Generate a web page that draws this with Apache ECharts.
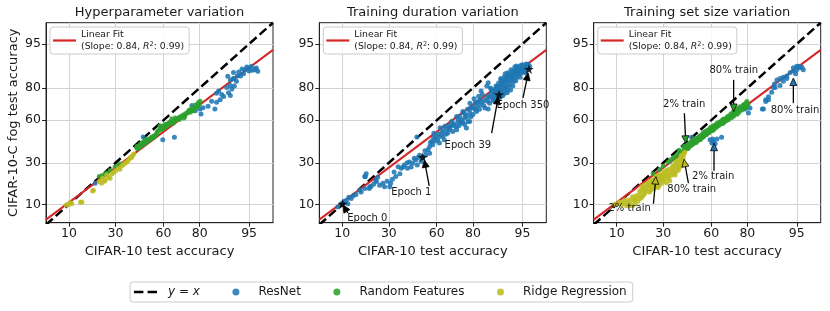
<!DOCTYPE html>
<html><head><meta charset="utf-8">
<script src="https://cdn.jsdelivr.net/npm/echarts@6/dist/echarts.min.js"></script>
<style>html,body{margin:0;padding:0;background:#fff}#c{width:830px;height:311px}</style>
</head><body><div id="c"></div>
<script>
// ---------------- data (accuracies in %) ----------------
const tickValues = [10, 30, 60, 80, 95];
const xRange = [4.9, 97.9];
const yRange = [5.3, 97.9];
const panelTitles = ['Hyperparameter variation', 'Training duration variation', 'Training set size variation'];
const xAxisTitle = 'CIFAR-10 test accuracy';
const yAxisTitle = 'CIFAR-10-C fog test accuracy';
const fitSlope = 0.84;
const fitIntercept = -0.17;
const fitLabel = 'Linear Fit';

const hpResNet = [[95.4,89.2],[95.9,88.0],[94.9,88.5],[94.3,88.0],[93.7,88.3],[96.1,88.6],[95.0,87.5],[93.4,85.6],[92.7,85.6],[91.8,87.0],[91.8,84.5],[92.5,83.3],[91.0,83.8],[94.0,86.5],[95.5,87.8],[96.3,87.4],[94.6,89.0],[93.0,87.2],[90.3,85.5],[91.9,84.5],[91.0,81.3],
 [91.4,79.5],[90.5,77.5],[91.0,76.0],[89.1,75.4],[88.0,73.5],[86.8,72.0],[86.2,67.7],[87.5,78.5],[90.0,80.2],[86.8,77.2],[92.0,81.0],[83.6,69.5],[81.5,68.5],[85.0,72.5],[88.5,76.5],
 [80.2,67.7],[80.6,64.3],[78.0,66.5],[76.3,70.0],[66.7,47.8],[59.6,46.0],[47.0,48.0],[19.6,18.5]];
const hpRandFeat = [[21.5,22],[23,22.5],[24.5,23.5],[25.2,23.8],[27,25.3],[29.7,27.5],[31.6,28.2],[32.5,29.3],[42.9,40],[42.9,41],[44,41.5],[45,42.5],[46,43.5],[47,44],[48,45.5],[49.3,44.5],[50.3,46.5],[52,47],[53.6,48],[53.6,47.3],[55,49],[55.8,50.2],[56.9,52.6],[57.8,56],[59,53.1],[60,54.5],[61,57.2],[62.2,56],[63.5,57.5],[65.1,58.4],[65.1,60.8],[66,57.9],[68,60.3],[69,61.5],[70,62.2],[71.8,63.7],[72.5,62.5],[73,64.5],[74.5,66],[75.5,65.5],[76.3,68.3],[77,66.5],[78,70.3],[79,69.5],[79.4,71.7],[80.2,72.6],
 [43.5,39.5],[44.5,40.5],[46.5,42],[47.5,43],[48.5,44],[49.8,45.8],[51,45.5],[52.5,48],[54.2,48.8],[56,51.5],[58,54],[59.5,55.5],[61,55],[62.8,57.5],[64,58.8],[66.5,59.5],[67.2,61.5],[69.5,60.5],[71,63],[72,61.5],[73.8,65],[75,67],[76.8,67],[78.5,68.8],[79.8,70.5]];
const hpRidge = [[9.3,9.8],[9.9,10],[10.8,10.2],[10.3,10.5],[14.2,10.8],[13.7,10.7],[18.5,15],[18.8,15.3],[21.5,19.4],[22.6,18.5],[23,21],[24,19.5],[24.5,20.1],[25.2,22.8],[26.1,21.7],[27,21],[28,23.5],[29,24.3],[30,25.2],[31.6,26.7],[32.5,26.1],[33.6,28.2],[34.5,28.8],[35.5,29.8],[36.5,30.5],[37.5,31.5],[38.5,33],[39.5,33.5],[40,34.5],[41,35.8]];

const durResNet = [[8.8,9.2],[9.7,10.2],[11.7,10.2],[11.2,11.3],[10.5,11],[12,12.5],[12.8,12],[13.5,13],[14.5,13.5],[15.9,15.3],[16.5,14.5],[18,16],[18.6,23.5],[18,22],[18.2,21.8],[20,16],[20.7,17],[20.2,16.8],[22,18],[23,20],[23.4,19.4],[24,21.5],[25,17.5],[26.7,18.5],[27.6,16.8],[29,19.5],[30.5,16.8],[31,18.5],[32,20.5],[33,24.5],[34,22],[35.4,27.6],[36.5,23.5],[37.3,26.6],[38.5,27.5],[39.3,28.6],[41,30],[41.2,26.6],[42.5,30.5],[43.5,27.5],[44.5,29.7],[45.5,33],[46.5,31.9],[47.2,47.9],[47.5,28.6],[48,33.5],[49,35],[50,30.9],[51,33.5],[52.5,38],[53,35.1],[54.5,39],[55.5,36.3],[55.5,41],[56,44],[57.5,42.3],[58,47.5],[58.2,50.6],[59,45],[60.6,46],[61.7,43.5],[62,48.5],[62.1,54.6],[63,51],[63.7,48.2],[64.6,46],[65,55.7],[66,53.5],[66.7,50.7],[67.7,53.1],[68.5,56],[69,59.1],[69.7,52],[70.5,57.5],[71.4,55.4],[71.8,62.6],[71.8,53.1],[72.5,60.5],[73.4,62.6],[74.2,57.9],[74.5,60],[75.1,66],[75.3,65],[76,61.5],[76.5,64],[76.9,54.5],[77.5,67.5],[77.7,59.1],[78.5,67.7],[78.5,59.1],[78.6,65],[78.6,71.3],[79.5,69],[80,68.3],[80.5,74],[81,71.5],[81.6,66],[81.6,69.2],[82,72],[82.5,75.5],[82.8,67.5],[83,70.3],[83.5,78.5],[83.7,72.1],[84,76.5],[84.5,70],[85,68.3],[85.7,74.5],[85.7,81],[86.2,67.7],[86.2,82.6],[86.7,71.3],[87.3,79.4],[87.8,73.4],[88.4,77],[88.9,78.6],
 [57,45],[59.5,48],[61,50],[64,52.5],[65.5,50],[67,56],[68,54.5],[70,56.5],[72.8,58.5],[73,56],[75,58.5],[76,57],[77,62.5],[79,62.5],[80,64],[81,67.5],[83,73.5],[84.8,73],[86,72.5],[86.8,75],
 [87.4,78],[88.1,74],[88.5,76.5],[88.6,79.5],[89.2,80.5],[89.5,77],[89.4,75.2],[89.9,77.7],[90,79],[90.3,75.6],[90.4,82],[90.8,76],[90.8,80],[91,84],[91.3,78.5],[91.6,81],[91.8,85.5],[92,79],[92.2,83],[92.4,86.5],[92.6,81.5],[92.9,84.5],[93.1,87.3],[93.3,83],[93.5,86],[93.8,88.4],[94,85],[94.2,87],[94.4,89],[94.6,86.5],[94.8,88],[95,89.7],[95.2,87.3],[95.4,88.6],[95.6,90],[95.8,89],[96,88.6],[95.9,89.9],[93.6,89],[92.8,88],[91.4,86.5],[90.2,84.5],[89.6,82.5],[88.8,81],[89.9,80.2],[90.7,81.7],[90.3,83.8],[91.2,85.3],[91.6,83.3],[92,86.9],[92.5,85],[93.2,85.6],[93.9,87],[94.1,88.7],[94.5,87.6],[95.1,88.2],[95.3,89.5],
 [86.5,76],[87,80],[87.6,75.5],[88,78],[88.3,72.8],[88.9,76],[89,79],[89.3,81],[89.7,74.5],[90,76.5],[90.1,81],[90.5,78],[90.6,83],[91,77],[91.1,82.2],[91.4,80],[91.7,84.2],[91.9,77.5],[92.1,80.8],[92.3,85],[92.7,79],[92.7,83.5],[93,86.2],[93.2,81],[93.4,84.3],[93.6,87.4],[93.8,83.5],[94.1,86],[94.3,88],[94.6,85],[94.9,87],[95.1,89],[95.4,87.8],[95.7,89.3],[96.1,89.2],[95.5,86.8],[94.7,89.5],[93.9,89.3]];
const epochStars = [[10.1,10.1],[51,33.8],[89.7,76.5],[96,88.2]];

const sizeResNet = [[95,88],[95.5,88.7],[96,88],[95.3,89.2],[94.4,87.5],[93.8,87],[93.1,85.6],[92.3,85],[91.5,84.5],[90.7,83.8],[92.3,83.3],[93.1,84.5],[94.4,88.7],[95,89.2],[95.8,89],[94.8,86.5],[91.5,81.3],[89.7,80.2],[89.2,77.7],[88.2,75.2],[87.3,73.5],[86.1,67.7],[88.2,73.5],[90.2,80.2],[87.3,72.4],[90,82],
 [79.8,69.2],[80.5,65],[81.2,68.3],[78.3,70.3],[86.5,67.7],[79,67.7],
 [59.3,46],[61.4,44.7],[63.6,46.4],[66.4,47.8],[60.4,43.5],[62.5,43],[47.5,47.8],[61,46.5]];
const sizeRandFeat = [[24.6,23.5],[28,26],[30,28],[33,30.5],[34.5,32],[36,33.5],[37.5,34],[38.5,35.5],[39.5,38.5],[40,37],[41,36.5],[42.4,38],[42.4,41],[43.5,40],[44,41.5],[44.5,42.5],[45,39.5],[46.5,41.5],[47,44.5],[48.6,43],[48.6,46],[49.5,44.5],[50,45.5],[50.5,47],[51.5,45.5],[52.5,48.5],[53.5,47],[54.5,50],[55.1,48],[55.1,51],[56.5,49.5],[57,51],[57.5,52.5],[58.5,51],[59.5,54],[60.5,52.5],[61.4,56],[61.4,53],[62.5,55],[63.5,57.5],[64,57],[64.5,56],[65.5,59],[66.5,57.5],[67.5,60.8],[67.5,58],[68.5,59.5],[69.5,62],[70,61.5],[70.5,60.5],[71.5,63.5],[72.2,62],[73.2,66],[73.2,63],[74.2,64.5],[75.2,67.5],[76,65.5],[76.6,69.2],[77.5,67],[78,68.5],[78.5,70.5],[79.2,68.5],[79.8,72.4],[80.2,70.5],
 [43,39],[43.8,41.2],[45.5,40.5],[46,43],[47.5,42.5],[48,44.5],[49,45.5],[50.5,44],[51,46.5],[52,47.5],[53,46],[53.8,49],[54.3,48],[55.8,49.5],[56.2,52],[57.2,50],[58,53],[59,52],[59.8,55],[60.2,53.5],[61,55],[62,54],[62.8,56.5],[63.2,55],[64.2,58],[65,57],[66,58.5],[66.8,60],[67,58.8],[68,59],[69,60.8],[70.2,62.8],[71,62],[71.8,64.5],[72.8,64],[73.6,65.2],[74.8,66.2],[75.6,68.2],[76.4,67],[77.2,68.8],[78.8,69.5],[79.5,71.5],[80,69.8],[75,64.2],[69.3,59.8]];
const sizeRidge = [[9.5,10],[10.5,10.3],[11,10.8],[12,10.5],[13,9.6],[14,9.5],[15.3,9.6],[16.3,10.3],[15.3,11.5],[15.3,12.7],[14,11.5],[17,12],[18,13.5],[19.1,12.5],[19.1,15],[19.1,16.8],[20.5,14],[21,16],[22,17.5],[22.8,14.5],[22.8,17],[22.8,19.5],[24,16],[24.5,18.5],[25.5,21],[26,17],[27.2,16.5],[27.2,19.5],[27.2,22.5],[28.5,20],[29.5,22],[30.5,24.5],[31.8,18.8],[31.8,22],[31.8,25.3],[33,21],[34,24],[35,27],[36,23.5],[37.3,24.5],[37.3,27.5],[37.3,30.5],[38.5,26.5],[39.5,29.5],[40,32.5],[41,28.5],[41,31.5],[41,35],[42,33],[42.5,36],
 [11.5,9.8],[12.5,11.5],[13.5,10.5],[14.5,10],[16,11.5],[16.8,13],[17.5,11],[18.2,15],[18.5,12],[19.8,13.2],[20,15.8],[20.2,17.5],[21.5,15],[21.8,18.5],[23.5,15.5],[23.5,18],[24.2,20],[25,16.2],[25.2,19.2],[26,21.8],[26.5,18],[27.8,17.5],[28,21.5],[28.2,23],[29,18.5],[29.2,20.8],[30,23],[30.2,19.5],[31,21],[31,24],[32.5,23],[33.2,26],[33.8,19.8],[34.5,22.5],[35.5,25],[35.8,28.5],[36.5,26],[37,22.8],[38,29],[38.8,31.5],[39,25.5],[39.8,27.5],[40.5,30],[40.5,33.5],[41.8,30],[42,35],[43,37]];

// annotations: [text x, text y, tail x, tail y, head x, head y]
const durAnnText = ['Epoch 0', 'Epoch 1', 'Epoch 39', 'Epoch 350'];
const durAnnColor = ['#000', '#000', '#000', '#000'];
const durAnnPos = [[19.1,6.3,11.7,7.5,10.2,9.8],[43.7,14.2,55.2,17.2,52.1,31.9],[77.6,41.7,87.4,50.7,89.5,75.2],[95.1,69.7,95.1,74.6,95.9,86.8]];
const sizeAnnText = ['2% train', '80% train', '2% train', '80% train', '2% train', '80% train'];
const sizeAnnColor = ['#bcbd22', '#bcbd22', '#2ca02c', '#2ca02c', '#1f77b4', '#1f77b4'];
const sizeAnnPos = [[14.2,8.9,24.7,10.2,26,21.9],[47.5,15.8,45.4,18.5,42.6,32.3],[42.7,70.9,42.8,64.9,43.7,43.4],[73.3,87.6,73.2,83.9,73.2,66],[61.3,22.2,61.8,25.2,61.8,43.4],[94.7,66.6,94.4,71.4,94.4,84.7]];

const seriesNames = ['ResNet', 'Random Features', 'Ridge Regression'];
const seriesColors = ['#1f77b4', '#2ca02c', '#bcbd22'];

// ---------------- probit scale helpers ----------------
function probit(p){
  const a=[-3.969683028665376e+01,2.209460984245205e+02,-2.759285104469687e+02,1.383577518672690e+02,-3.066479806614716e+01,2.506628277459239e+00];
  const b=[-5.447609879822406e+01,1.615858368580409e+02,-1.556989798598866e+02,6.680131188771972e+01,-1.328068155288572e+01];
  const c=[-7.784894002430293e-03,-3.223964580411365e-01,-2.400758277161838e+00,-2.549732539343734e+00,4.374664141464968e+00,2.938163982698783e+00];
  const d=[7.784695709041462e-03,3.224671290700398e-01,2.445134137142996e+00,3.754408661907416e+00];
  const pl=0.02425, ph=1-pl; let q,r;
  if(p<pl){q=Math.sqrt(-2*Math.log(p));return (((((c[0]*q+c[1])*q+c[2])*q+c[3])*q+c[4])*q+c[5])/((((d[0]*q+d[1])*q+d[2])*q+d[3])*q+1);}
  if(p<=ph){q=p-0.5;r=q*q;return (((((a[0]*r+a[1])*r+a[2])*r+a[3])*r+a[4])*r+a[5])*q/(((((b[0]*r+b[1])*r+b[2])*r+b[3])*r+b[4])*r+1);}
  q=Math.sqrt(-2*Math.log(1-p));return -(((((c[0]*q+c[1])*q+c[2])*q+c[3])*q+c[4])*q+c[5])/((((d[0]*q+d[1])*q+d[2])*q+d[3])*q+1);
}
const P = v => probit(v / 100);
const toP = arr => arr.map(d => [P(d[0]), P(d[1])]);
const tickP = tickValues.map(P);
const tickFmt = v => { for (let i = 0; i < tickP.length; i++) if (Math.abs(tickP[i] - v) < 1e-6) return String(tickValues[i]); return ''; };

// ---------------- layout ----------------
const FONT = 'DejaVu Sans';
const gridLefts = [46, 319.3, 593.7];
const gridW = 227, gridTop = 22.7, gridH = 200;
const DASH_ICON = 'path://M0,0H9V2.6H0Z M13,0H22V2.6H13Z';
const LINE_ICON = 'path://M0,0H23V2.2H0Z';

const grids = [], xAxes = [], yAxes = [], series = [], graphics = [], legends = [];
const panelData = [[hpResNet, hpRandFeat, hpRidge], [durResNet, null, null], [sizeResNet, sizeRandFeat, sizeRidge]];
const xLo = P(xRange[0]), xHi = P(xRange[1]);

for (let i = 0; i < 3; i++) {
  grids.push({left: gridLefts[i], top: gridTop, width: gridW, height: gridH, show: true, borderColor: '#222', borderWidth: 1, backgroundColor: 'transparent', outerBoundsMode: 'none'});
  const common = {
    gridIndex: i, type: 'value',
    axisLine: {show: true, onZero: false, lineStyle: {color: '#222', width: 1}},
    axisTick: {show: true, length: 4, customValues: tickP, lineStyle: {color: '#222'}},
    axisLabel: {customValues: tickP, formatter: tickFmt, fontSize: 12.5, color: '#1a1a1a', fontFamily: FONT, margin: 5},
    splitLine: {show: true, lineStyle: {color: '#d3d3d3', width: 1}}
  };
  xAxes.push(Object.assign({}, common, {min: xLo, max: xHi, name: xAxisTitle, nameLocation: 'middle', nameGap: 20,
    nameTextStyle: {fontSize: 13, color: '#1a1a1a', fontFamily: FONT}}));
  yAxes.push(Object.assign({}, common, {min: P(yRange[0]), max: P(yRange[1]), name: i === 0 ? yAxisTitle : '', nameLocation: 'middle', nameGap: 26, nameRotate: 90,
    nameTextStyle: {fontSize: 13, color: '#1a1a1a', fontFamily: FONT}}));

  series.push({name: 'y = x', type: 'line', xAxisIndex: i, yAxisIndex: i, symbol: 'none', silent: true, clip: true, z: 2,
    data: [[xLo, xLo], [xHi, xHi]], itemStyle: {color: '#000'}, lineStyle: {color: '#000', width: 2.5, type: [9, 4]}});
  series.push({name: fitLabel, type: 'line', xAxisIndex: i, yAxisIndex: i, symbol: 'none', silent: true, clip: true, z: 2,
    data: [[xLo, fitSlope * xLo + fitIntercept], [xHi, fitSlope * xHi + fitIntercept]], itemStyle: {color: '#d62728'}, lineStyle: {color: '#d62728', width: 2}});
  for (let k = 0; k < 3; k++) {
    const d = panelData[i][k];
    series.push({name: seriesNames[k], type: 'scatter', xAxisIndex: i, yAxisIndex: i, symbol: 'circle', symbolSize: 5, z: 3,
      data: d ? toP(d) : [], itemStyle: {color: seriesColors[k], opacity: 0.88}});
  }
  graphics.push({type: 'text', x: gridLefts[i] + gridW / 2, y: 12.5,
    style: {text: panelTitles[i], fontSize: 13, fontFamily: FONT, fill: '#1a1a1a', align: 'center', verticalAlign: 'middle'}});
  legends.push({data: [{name: fitLabel, icon: LINE_ICON, itemStyle: {color: '#d62728'}}], left: gridLefts[i] + 4, top: 27, orient: 'vertical', selectedMode: false,
    itemWidth: 23, itemHeight: 8, padding: [1, 5, 1, 3], borderColor: '#cccccc', borderWidth: 1, borderRadius: 3,
    backgroundColor: 'rgba(255,255,255,0.85)',
    formatter: () => 'Linear Fit\n(Slope: 0.84, {i|R}{s|2}: 0.99)',
    textStyle: {fontSize: 9.3, lineHeight: 12.5, color: '#1a1a1a', fontFamily: FONT,
      rich: {i: {fontStyle: 'italic', fontSize: 9.3, fontFamily: FONT, color: '#1a1a1a'},
             s: {fontSize: 6.5, fontFamily: FONT, color: '#1a1a1a', verticalAlign: 'top', lineHeight: 9}}}});
}

series.push({name: 'epochStars', type: 'scatter', xAxisIndex: 1, yAxisIndex: 1, z: 5,
  symbol: 'path://M0,-10 L2.35,-3.24 L9.51,-3.09 L3.8,1.24 L5.88,8.09 L0,4 L-5.88,8.09 L-3.8,1.24 L-9.51,-3.09 L-2.35,-3.24Z',
  symbolSize: 10, symbolKeepAspect: true, data: toP(epochStars), itemStyle: {color: '#000'}});

function annSeries(idx, texts, colors, pos) {
  return {type: 'custom', xAxisIndex: idx, yAxisIndex: idx, z: 6, clip: false, silent: true,
    data: pos.map(p => p.map(v => P(v))),
    renderItem: (params, api) => {
      const t = api.coord([api.value(0), api.value(1)]);
      const a = api.coord([api.value(2), api.value(3)]);
      const h = api.coord([api.value(4), api.value(5)]);
      const dx = h[0] - a[0], dy = h[1] - a[1], L = Math.hypot(dx, dy) || 1;
      const ux = dx / L, uy = dy / L, hl = 7.5, hw = 3.5;
      const bx = h[0] - ux * hl, by = h[1] - uy * hl, px = -uy, py = ux;
      return {type: 'group', children: [
        {type: 'line', shape: {x1: a[0], y1: a[1], x2: bx, y2: by}, style: {stroke: '#000', lineWidth: 1.3}},
        {type: 'polygon', shape: {points: [[h[0], h[1]], [bx + px * hw, by + py * hw], [bx - px * hw, by - py * hw]]},
          style: {fill: colors[params.dataIndex], stroke: '#000', lineWidth: 0.8}},
        {type: 'text', x: t[0], y: t[1], style: {text: texts[params.dataIndex], fontSize: 10, fontFamily: FONT, fill: '#1a1a1a', align: 'center', verticalAlign: 'middle'}}
      ]};
    }};
}
series.push(annSeries(1, durAnnText, durAnnColor, durAnnPos));
series.push(annSeries(2, sizeAnnText, sizeAnnColor, sizeAnnPos));

legends.push({data: [{name: 'y = x', icon: DASH_ICON, itemStyle: {color: '#000'}}, 'ResNet', 'Random Features', 'Ridge Regression'],
  left: 130, top: 282, orient: 'horizontal', selectedMode: false,
  itemWidth: 23, itemHeight: 7, itemGap: 32.5, padding: [4, 6, 4, 4], borderColor: '#cccccc', borderWidth: 1, borderRadius: 3,
  formatter: n => n === 'y = x' ? '{i|y} = {i|x}' : n,
  textStyle: {fontSize: 12, color: '#1a1a1a', fontFamily: FONT, padding: [0, 0, 0, 6],
    rich: {i: {fontStyle: 'italic', fontSize: 12, fontFamily: FONT, color: '#1a1a1a'}}}});

const chart = echarts.init(document.getElementById('c'), null, {renderer: 'canvas'});
chart.setOption({
  animation: false,
  textStyle: {fontFamily: FONT},
  grid: grids, xAxis: xAxes, yAxis: yAxes, series: series, legend: legends, graphic: graphics
});
</script></body></html>
